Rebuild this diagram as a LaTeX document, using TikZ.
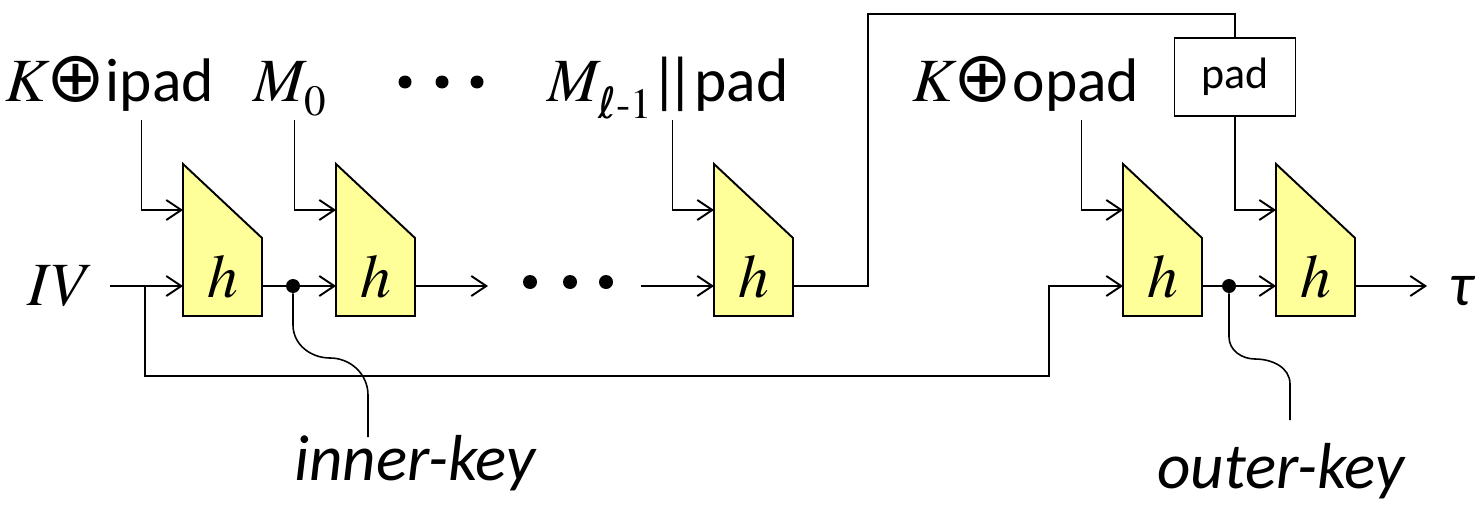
\documentclass[tikz,border=0pt]{standalone}
\usepackage{fontspec}
\setmainfont{Carlito}
\newfontfamily\tmsup{texgyretermes-regular.otf}
\newfontfamily\tmsit{texgyretermes-italic.otf}
\newfontfamily\dvs{DejaVu Sans}
\usetikzlibrary{arrows.meta, positioning, calc}
\definecolor{hYellow}{RGB}{255,255,153}
\newcommand{\vi}[1]{{\tmsit #1}}
\newcommand{\xorop}{{\dvs\fontsize{40}{40}\selectfont ⊕}}
\newcommand{\concat}{|\kern-0.2em|}
\tikzset{
	hblk/.style    ={draw=black, line width=1.1pt, fill=hYellow},
	sig/.style     ={-{Straight Barb[length=3mm, width=4mm]}, line width=1.1pt},
	wire/.style    ={line width=1.1pt},
	keyline/.style ={line width=0.9pt},
	dotnode/.style ={circle, fill=black, inner sep=0pt, minimum size=0.28cm},
	padbox/.style  ={rectangle, draw=black, line width=1.1pt, minimum width=2.42cm, minimum height=1.56cm, inner sep=0pt},
	lbl/.style     ={anchor=base, inner sep=0pt},
}

\begin{document}
\begin{tikzpicture}[font=\fontsize{35}{40}\selectfont]
	\useasboundingbox (0,0) rectangle (29.62,10.18);
	% compression function blocks
	\foreach \n/\x in {1/3.66, 2/6.72, 3/14.28, 4/22.46, 5/25.52}{
		\draw[hblk] (\x,3.86) -- (\x,6.90) -- (\x+1.58,5.42) -- (\x+1.58,3.86) -- cycle;
		\node[lbl] (h\n) at (\x+0.79,4.24) {\vi{h}};
		\coordinate (h\n-in) at (\x,4.46);
		\coordinate (h\n-key) at (\x,5.98);
		\coordinate (h\n-out) at (\x+1.58,4.46);
		\coordinate (h\n-feed) at (\x-0.83,7.78);
	}
	% inputs on top
	\node[lbl] (kipad) at (2.2,8.15) {\vi{K}\xorop ipad};
	\node[lbl] (m0) at (5.8,8.15) {\vi{M}\textsubscript{\tmsup 0}};
	\node[lbl] (mlast) at (13.36,8.15) {\vi{M}\textsubscript{\dvs ℓ\tmsup-1}\kern-0.05em\concat pad};
	\node[lbl] (kopad) at (20.52,8.15) {\vi{K}\xorop opad};
	\node[padbox] (pad) at (24.70,8.64) {\fontsize{25}{30}\selectfont pad};
	\foreach \px in {8.1, 8.84, 9.54}
		\fill (\px,8.54) circle (0.13);
	\foreach \n in {1,...,4}
		\draw[sig] (h\n-feed) |- (h\n-key);
	\draw[sig] (pad.south) |- (h5-key);
	% chaining values
	\node[lbl] (iv) at (1.14,4.08) {\vi{IV}};
	\coordinate (ivstart) at (2.2,4.46);
	\coordinate (ivsplit) at (2.9,4.46);
	\coordinate (ivlow) at (20.98,2.66);
	\draw[sig] (ivstart) -- (h1-in);
	\draw[sig] (ivsplit) |- (ivlow) |- (h4-in);
	\node[dotnode] (ikey) at (5.86,4.46) {};
	\draw[sig] (h1-out) -- (h2-in);
	\draw[sig] (h2-out) -- (9.76,4.46);
	\foreach \px in {10.6, 11.4, 12.12}
		\fill (\px,4.54) circle (0.14);
	\draw[sig] (12.82,4.46) -- (h3-in);
	\draw[wire] (h3-out) -| (17.36,9.9) -| (pad.north);
	\node[dotnode] (okey) at (24.58,4.46) {};
	\draw[sig] (h4-out) -- (h5-in);
	\draw[sig] (h5-out) -- (28.54,4.46);
	\node[lbl] (tau) at (29.22,4.08) {\itshape τ};
	% key labels
	\draw[keyline] (ikey) -- (5.86,3.68) to[out=-90,in=180] (6.6,3.02) to[out=0,in=90] (7.36,2.28) -- (7.36,1.44);
	\node[lbl, font=\fontsize{37}{40}\selectfont\itshape] (ikeylbl) at (8.3,0.58) {inner-key};
	\draw[keyline] (okey) -- (24.58,3.44) to[out=-90,in=180] (25.1,3.0) to[out=0,in=90] (25.8,2.5) -- (25.8,1.78);
	\node[lbl, font=\fontsize{37}{40}\selectfont\itshape] (okeylbl) at (25.62,0.42) {outer-key};
\end{tikzpicture}
\end{document}
